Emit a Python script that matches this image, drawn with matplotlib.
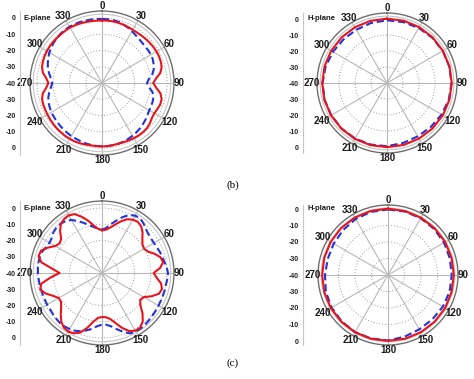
import numpy as np
import matplotlib.pyplot as plt

plt.rcParams['font.family'] = ['Liberation Sans', 'DejaVu Sans']

figW, figH = 474, 379

# angles in degrees, clockwise from top
angles5 = np.arange(0, 360, 5)
angles15 = np.arange(0, 360, 15)
tickAngles = np.arange(0, 360, 30)
gridLevels = [-30, -20, -10, 0]
scaleLevels = [0, -10, -20, -30, -40, -30, -20, -10, 0]

# (b) E-plane, dB every 5 deg
eplaneB_red = [-1.5, -1.5, -1.5, -1.6, -1.8, -2.0, -2.2, -2.2, -2.0, -1.8, -1.6, -1.4,
               -1.3, -1.3, -1.5, -2.0, -3.5, -6.5, -8.5, -6.5, -3.5, -2.0, -1.8, -2.3,
               -2.8, -2.5, -1.5, -0.8, -0.6, -0.6, -0.8, -1.0, -1.2, -1.3, -1.2, -1.0,
               -1.0, -1.0, -1.0, -0.8, -0.5, -0.3, -0.3, -0.3, -0.5, -0.6, -0.8, -1.0,
               -1.2, -1.4, -1.5, -1.8, -3.0, -5.5, -7.0, -5.5, -3.0, -1.8, -1.3, -1.0,
               -0.8, -0.7, -0.7, -0.8, -0.8, -0.7, -0.6, -0.8, -1.0, -1.2, -1.4, -1.5]
eplaneB_blue = [-0.6, -0.6, -0.7, -1.0, -1.6, -2.4, -3.2, -4.0, -4.6, -5.0, -5.2, -5.2,
                -5.2, -5.5, -6.2, -7.0, -8.5, -11.0, -12.3, -11.0, -8.5, -7.2, -6.8, -6.6,
                -6.4, -5.8, -5.0, -4.3, -3.6, -3.0, -2.5, -2.0, -1.6, -1.3, -1.1, -1.0,
                -1.0, -1.1, -1.3, -1.5, -1.8, -2.1, -2.3, -2.6, -2.9, -3.2, -3.5, -3.8,
                -4.0, -4.5, -5.0, -5.8, -7.0, -8.5, -9.3, -8.5, -7.0, -5.5, -4.5, -3.5,
                -2.6, -1.9, -1.3, -0.8, -0.4, -0.1, 0.0, 0.0, -0.1, -0.3, -0.4, -0.5]

# (b) H-plane, dB every 15 deg
hplaneB_red = [0.2, 0.3, 0.3, 0.3, 0.3, 0.4, 0.5, 0.4, 0.3, 0.2, 0.1, 0.1,
               0.1, 0.2, 0.3, 0.3, 0.4, 0.5, 0.5, 0.4, 0.3, 0.2, 0.2, 0.2]
hplaneB_blue = [-0.8, -0.6, -0.3, 0.0, 0.2, 0.3, 0.3, 0.0, -0.6, -1.2, -1.5, -1.2,
                -0.5, -0.2, 0.0, 0.2, 0.3, 0.4, 0.3, -0.3, -1.0, -1.5, -1.6, -1.2]

# (c) E-plane, dB every 5 deg
eplaneC_red = [-13.7, -13.3, -11.7, -9.2, -6.2, -3.5, -2.1, -1.6, -2.5, -4.7, -7.6, -9.6,
               -10.1, -8.8, -5.5, -2.7, -1.8, -4.1, -8.2, -6.2, -3.1, -1.8, -2.7, -6.2,
               -10.3, -11.3, -9.2, -4.7, -1.0, 1.0, 1.0, -0.6, -4.1, -8.2, -11.3, -12.7,
               -12.9, -12.3, -9.6, -5.1, -1.0, 1.0, 1.6, 1.0, -1.0, -4.1, -7.2, -9.2,
               -9.2, -6.8, -3.1, -0.6, -2.1, -8.2, -13.9, -9.2, -2.1, 0.4, 0.0, -3.1,
               -6.8, -8.2, -7.2, -3.5, -0.6, 0.6, 1.0, 0.0, -3.1, -6.6, -10.3, -12.7]
eplaneC_blue = [-13.3, -12.3, -9.6, -6.8, -3.5, -0.6, 0.8, 1.0, -0.2, -1.8, -2.7, -3.1,
                -3.1, -2.7, -2.1, -1.6, -1.0, 0.0, 0.6, 0.4, 0.0, 0.0, 0.0, 0.0,
                0.2, 0.4, 0.6, 1.0, 1.4, 1.6, 1.6, 1.0, -1.4, -4.1, -6.6, -8.0,
                -8.2, -7.2, -5.1, -3.5, -1.8, -0.8, -0.2, 0.2, 0.2, -0.2, -0.6, -1.0,
                -1.0, -1.2, -1.2, -1.2, -1.0, -0.8, -0.6, -0.4, -0.4, -0.4, -1.0, -2.1,
                -2.7, -2.3, -1.0, -0.4, -0.4, -1.0, -2.3, -4.7, -7.2, -9.6, -11.3, -12.7]

# (c) H-plane, dB every 15 deg
hplaneC_red = [0.2, 0.1, 0.0, 0.0, 0.0, -0.1, -0.1, -0.1, 0.0, 0.0, 0.0, 0.0,
               -0.1, 0.0, 0.0, 0.0, 0.0, 0.0, -0.1, 0.0, 0.1, 0.2, 0.2, 0.2]
hplaneC_blue = [-0.3, -0.2, -0.3, -0.5, -0.8, -1.2, -1.4, -1.3, -1.6, -2.0, -2.0, -1.3,
                -0.3, -0.2, 0.0, -0.3, -0.5, -1.0, -1.8, -2.2, -2.0, -1.5, -0.8, -0.4]

redColor = '#e8141c'
blueColor = '#2233d8'
floorDb = -40.0


def closeLoop(angles, values):
  theta = np.deg2rad(np.append(angles, angles[0]))
  r = np.append(values, values[0]) - floorDb
  return theta, r


def drawPanel(fig, cx, cy, outerPx, zeroPx, axisX, name, angles, red, blue):
  rMax = -floorDb * outerPx / zeroPx
  bottom = (figH - cy - outerPx) / figH
  height = 2 * outerPx / figH

  ax = fig.add_axes([(cx - outerPx) / figW, bottom, 2 * outerPx / figW, height], projection='polar')
  ax.set_theta_zero_location('N')
  ax.set_theta_direction(-1)
  ax.set_ylim(0, rMax)
  ax.set_xticks(np.deg2rad(tickAngles))
  ax.set_xticklabels([])
  ax.set_yticks(np.array(gridLevels) - floorDb)
  ax.set_yticklabels([])
  ax.xaxis.grid(True, color='#b8b8b8', lw=0.8, ls='-')
  ax.yaxis.grid(True, color='#9a9a9a', lw=0.7, ls=(0, (1, 2)))
  ax.spines['polar'].set_color('#6e6e6e')
  ax.spines['polar'].set_linewidth(1.0)
  ring = np.linspace(0, 2 * np.pi, 361)
  ax.plot(ring, np.full_like(ring, rMax * 0.955), color='#c4c4c4', lw=0.8)

  t, r = closeLoop(angles, blue)
  ax.plot(t, r, color=blueColor, lw=1.5, ls=(0, (3.5, 1.8)))
  t, r = closeLoop(angles, red)
  ax.plot(t, r, color=redColor, lw=1.5)

  for a in tickAngles:
    ax.text(np.deg2rad(a), rMax * 1.075, str(a), ha='center', va='center',
            fontsize=7, fontweight='bold', color='#1a1a1a', clip_on=False)

  sax = fig.add_axes([axisX / figW, bottom, 0.001, height])
  sax.set_ylim(-rMax, rMax)
  ticks = [(-floorDb + v) * (1 if i < 4 else -1) for i, v in enumerate(scaleLevels)]
  sax.set_yticks(ticks)
  sax.set_yticklabels([str(v) for v in scaleLevels], fontsize=5, fontweight='bold', color='#222222')
  sax.set_xticks([])
  sax.patch.set_visible(False)
  for s in ['top', 'right', 'bottom']:
    sax.spines[s].set_visible(False)
  sax.spines['left'].set_color('#c8c8c8')
  sax.spines['left'].set_linewidth(0.8)
  sax.tick_params(axis='y', length=0, pad=3)

  fig.text((axisX + 4) / figW, (figH - cy + zeroPx) / figH, name, fontsize=5.5,
           fontweight='bold', va='center', ha='left', color='#1a1a1a')


fig = plt.figure(figsize=(figW / 100, figH / 100), dpi=100)

drawPanel(fig, 102, 83, 72, 65, 20, 'E-plane', angles5, eplaneB_red, eplaneB_blue)
drawPanel(fig, 387, 83, 70, 64, 303, 'H-plane', angles15, hplaneB_red, hplaneB_blue)
drawPanel(fig, 102, 273, 72, 65, 20, 'E-plane', angles5, eplaneC_red, eplaneC_blue)
drawPanel(fig, 388, 275, 70, 66, 303, 'H-plane', angles15, hplaneC_red, hplaneC_blue)

fig.text(233 / figW, 1 - 185 / figH, '(b)', fontsize=8, family='Liberation Serif', ha='center', va='center')
fig.text(233 / figW, 1 - 363 / figH, '(c)', fontsize=8, family='Liberation Serif', ha='center', va='center')

fig.savefig('out.png', dpi=100)
